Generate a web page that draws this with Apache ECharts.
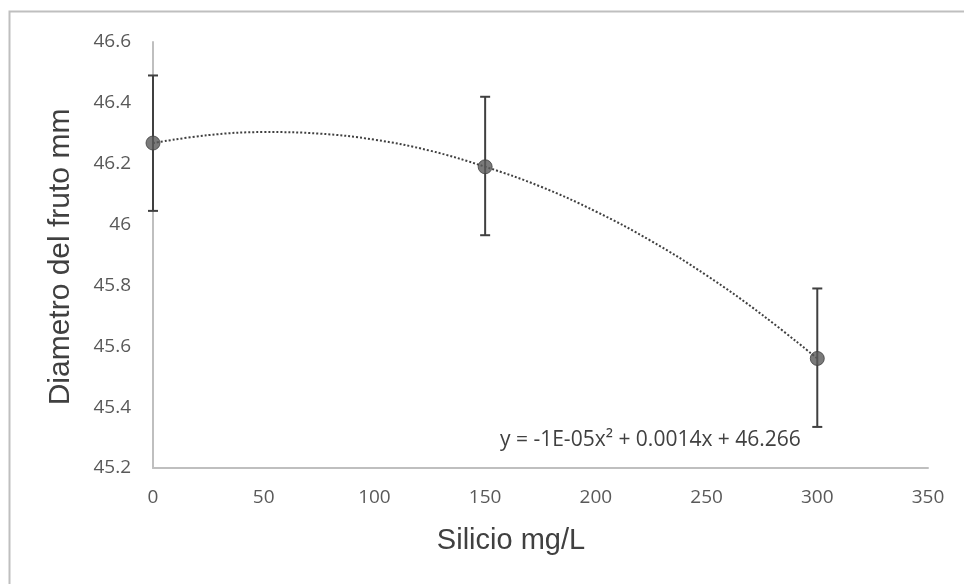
<!DOCTYPE html>
<html>
<head>
<meta charset="utf-8">
<script src="https://cdn.jsdelivr.net/npm/echarts@6/dist/echarts.min.js"></script>
<style>
html, body { margin: 0; padding: 0; background: #fff; }
#main { width: 964px; height: 584px; }
</style>
</head>
<body>
<div id="main"></div>
<script>
// valores
var silicio = [0, 150, 300];
var diametro = [46.268, 46.19, 45.56];
var errorSup = [46.49, 46.42, 45.79];
var errorInf = [46.045, 45.965, 45.335];

// linea de tendencia polinomica
var tendX = [0, 25, 50, 75, 100, 125, 150, 175, 200, 225, 250, 275, 300];
var tendY = [46.268, 46.294, 46.304, 46.299, 46.279, 46.243, 46.19, 46.125, 46.043, 45.946, 45.833, 45.704, 45.56];

var xTicks = [0, 50, 100, 150, 200, 250, 300, 350];
var yTicks = [45.2, 45.4, 45.6, 45.8, 46, 46.2, 46.4, 46.6];

var tituloX = 'Silicio mg/L';
var tituloY = 'Diametro del fruto mm';
var ecuacion = 'y = -1E-05x\u00b2 + 0.0014x + 46.266';

var myChart = echarts.init(document.getElementById('main'));

var puntos = silicio.map(function(x, i) { return [x, diametro[i]]; });
var tendencia = tendX.map(function(x, i) { return [x, tendY[i]]; });
var errores = silicio.map(function(x, i) { return [x, errorInf[i], errorSup[i]]; });

var option = {
	animation: false,
	backgroundColor: '#fff',
	textStyle: { fontFamily: 'Open Sans' },
	graphic: [{
		type: 'rect',
		shape: { x: 9.5, y: 11.5, width: 980, height: 600 },
		style: { fill: 'none', stroke: '#bfbfbf', lineWidth: 2 },
		silent: true
	}, {
		type: 'text',
		x: 500,
		y: 440,
		style: { text: ecuacion, fill: '#404040', font: '21px "Open Sans"', textVerticalAlign: 'middle' }
	}, {
		type: 'text',
		x: 511,
		y: 541,
		style: { text: tituloX, fill: '#404040', font: '29px "Liberation Sans"', textAlign: 'center', textVerticalAlign: 'middle' }
	}, {
		type: 'text',
		x: 61,
		y: 257,
		rotation: Math.PI / 2,
		style: { text: tituloY, fill: '#404040', font: '30px "Liberation Sans"', textAlign: 'center', textVerticalAlign: 'middle' }
	}],
	grid: { left: 153, right: 36, top: 42, bottom: 116 },
	xAxis: {
		type: 'value',
		min: xTicks[0],
		max: xTicks[xTicks.length - 1],
		interval: 50,
		axisLine: { lineStyle: { color: '#bfbfbf', width: 2 } },
		axisTick: { show: false },
		splitLine: { show: false },
		axisLabel: { color: '#595959', fontSize: 19, margin: 20 }
	},
	yAxis: {
		type: 'value',
		min: yTicks[0],
		max: yTicks[yTicks.length - 1],
		interval: 0.2,
		axisLine: { show: true, lineStyle: { color: '#bfbfbf', width: 2 } },
		axisTick: { show: false },
		splitLine: { show: false },
		axisLabel: {
			color: '#595959', fontSize: 19, margin: 22,
			formatter: function(v) { return String(Math.round(v * 10) / 10); }
		}
	},
	series: [{
		name: 'tendencia',
		type: 'line',
		data: tendencia,
		smooth: 0.4,
		symbol: 'none',
		lineStyle: { color: '#404040', width: 2, type: [2, 2] },
		z: 2
	}, {
		name: 'error',
		type: 'custom',
		data: errores,
		renderItem: function(params, api) {
			var x = api.value(0);
			var p1 = api.coord([x, api.value(1)]);
			var p2 = api.coord([x, api.value(2)]);
			var w = 5;
			var st = { stroke: '#404040', lineWidth: 2 };
			return {
				type: 'group',
				children: [
					{ type: 'line', shape: { x1: p1[0], y1: p1[1], x2: p2[0], y2: p2[1] }, style: st },
					{ type: 'line', shape: { x1: p1[0] - w, y1: p1[1], x2: p1[0] + w, y2: p1[1] }, style: st },
					{ type: 'line', shape: { x1: p2[0] - w, y1: p2[1], x2: p2[0] + w, y2: p2[1] }, style: st }
				]
			};
		},
		z: 3
	}, {
		name: 'diametro',
		type: 'scatter',
		data: puntos,
		symbol: 'circle',
		symbolSize: 14,
		itemStyle: { color: '#595959', borderColor: '#404040', borderWidth: 1 },
		z: 4
	}]
};

myChart.setOption(option);
</script>
</body>
</html>
